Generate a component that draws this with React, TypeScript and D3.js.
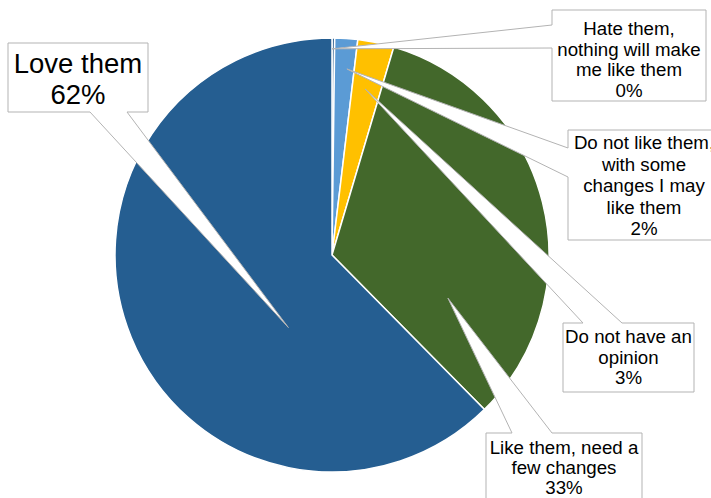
import React from "react";
import * as d3 from "d3";

const categories = [
  "Hate them, nothing will make me like them",
  "Do not like them, with some changes I may like them",
  "Do not have an opinion",
  "Like them, need a few changes",
  "Love them",
];
const values = [0.2, 1.7, 2.7, 33.0, 62.4];
const colors = ["#2f5f8f", "#5b9bd5", "#ffc000", "#43682b", "#255e91"];
const labelLines = [
  ["Hate them,", "nothing will make", "me like them"],
  ["Do not like them,", "with some", "changes I may", "like them"],
  ["Do not have an", "opinion"],
  ["Like them, need a", "few changes"],
  ["Love them"],
];

type Side = "left" | "top" | "bottom";
interface Layout {
  x: number; y: number; w: number; h: number;
  side: Side; base: [number, number];
  tipFrac: number; tipR: number;
  fs: number; first: number; lh: number;
}
const layouts: Layout[] = [
  { x: 552, y: 10, w: 154, h: 91, side: "left", base: [25, 48], tipFrac: 0, tipR: 0.95, fs: 18.7, first: 35, lh: 20.7 },
  { x: 568, y: 130, w: 152, h: 110, side: "left", base: [148, 177], tipFrac: 0.63, tipR: 0.86, fs: 18.7, first: 149, lh: 21.6 },
  { x: 563, y: 323, w: 131, h: 69, side: "top", base: [583, 622], tipFrac: 0.46, tipR: 0.78, fs: 18.7, first: 343, lh: 20.7 },
  { x: 486, y: 433, w: 156, h: 80, side: "top", base: [512, 552], tipFrac: 0.79, tipR: 0.57, fs: 18.7, first: 454, lh: 20 },
  { x: 8, y: 43, w: 140, h: 69, side: "bottom", base: [90, 127], tipFrac: 0.337, tipR: 0.39, fs: 27.5, first: 72.5, lh: 31 },
];

const W = 711, H = 498;
const cx = 332, cy = 255, R = 217;

function calloutPath(l: Layout, tip: [number, number]) {
  const { x, y, w, h, side, base } = l;
  const [a, b] = base;
  const [tx, ty] = tip;
  if (side === "left") {
    return `M${x},${y} L${x + w},${y} L${x + w},${y + h} L${x},${y + h} L${x},${b} L${tx},${ty} L${x},${a} Z`;
  }
  if (side === "top") {
    return `M${x},${y} L${a},${y} L${tx},${ty} L${b},${y} L${x + w},${y} L${x + w},${y + h} L${x},${y + h} Z`;
  }
  return `M${x},${y} L${x + w},${y} L${x + w},${y + h} L${b},${y + h} L${tx},${ty} L${a},${y + h} L${x},${y + h} Z`;
}

export default function App() {
  const pie = d3.pie<number>().sort(null).value((d) => d).startAngle(0).endAngle(2 * Math.PI);
  const arcs = pie(values);
  const arcGen = d3.arc<d3.PieArcDatum<number>>().innerRadius(0).outerRadius(R);
  const fmt = (v: number) => `${Math.round(v)}%`;

  return (
    <svg
      width={W}
      height={H}
      style={{ position: "absolute", left: 0, top: 0, background: "#fff" }}
      fontFamily="'Liberation Sans', Arial, sans-serif"
    >
      <g transform={`translate(${cx},${cy})`}>
        {arcs.map((a, i) => (
          <path key={categories[i]} d={arcGen(a) || ""} fill={colors[i]} stroke="#fff" strokeWidth={1.5} strokeLinejoin="round" />
        ))}
      </g>
      {arcs.map((a, i) => {
        const l = layouts[i];
        const ang = a.startAngle + l.tipFrac * (a.endAngle - a.startAngle);
        const r = l.tipR * R;
        const tip: [number, number] = [cx + r * Math.sin(ang), cy - r * Math.cos(ang)];
        const lines = [...labelLines[i], fmt(values[i])];
        return (
          <g key={"lab" + i}>
            <path d={calloutPath(l, tip)} fill="#fff" stroke="#b3b3b3" strokeWidth={1} strokeLinejoin="miter" />
            <text textAnchor="middle" fontSize={l.fs} fill="#000">
              {lines.map((t, j) => (
                <tspan key={j} x={l.x + l.w / 2} y={l.first + j * l.lh}>{t}</tspan>
              ))}
            </text>
          </g>
        );
      })}
    </svg>
  );
}
